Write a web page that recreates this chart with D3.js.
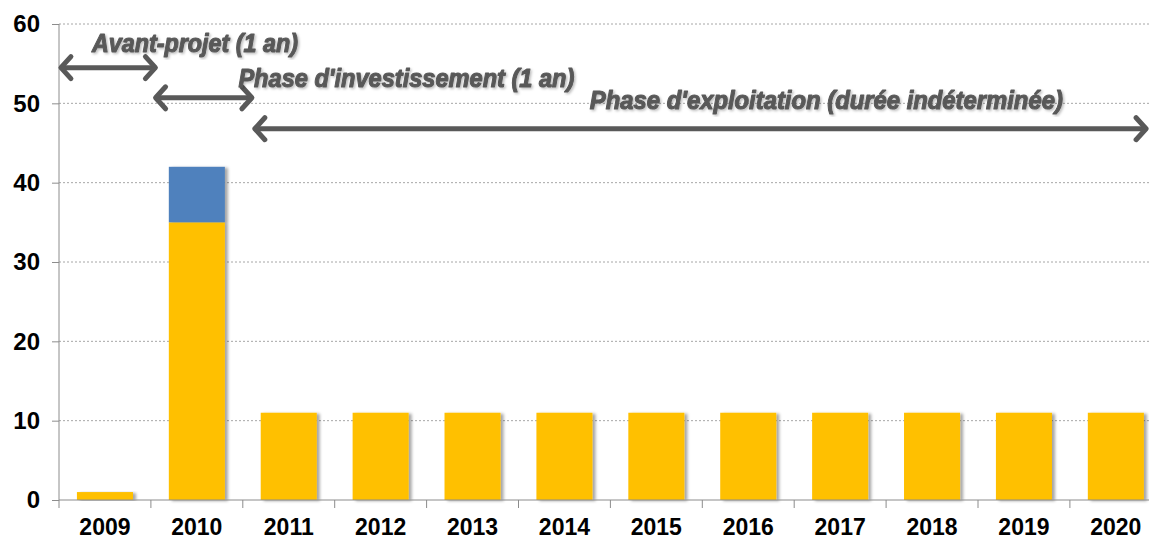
<!DOCTYPE html>
<html>
<head>
<meta charset="utf-8">
<script src="https://cdn.jsdelivr.net/npm/d3@7"></script>
<style>
  html, body { margin: 0; padding: 0; background: #fff; }
  svg { display: block; font-family: "Liberation Sans", Arial, sans-serif; }
</style>
</head>
<body>
<svg id="chart"></svg>
<script>
// Data
const years = ["2009", "2010", "2011", "2012", "2013", "2014", "2015", "2016", "2017", "2018", "2019", "2020"];
const yellowValues = [1, 35, 11, 11, 11, 11, 11, 11, 11, 11, 11, 11];
const blueValues = [0, 7, 0, 0, 0, 0, 0, 0, 0, 0, 0, 0];
const yTicks = [0, 10, 20, 30, 40, 50, 60];

// Phase arrows: positions in category units (0 = left edge of 2009)
const phaseNames = ["Avant-projet (1 an)", "Phase d'investissement (1 an)", "Phase d'exploitation (durée indéterminée)"];
const phaseFrom = [0.01, 1.04, 2.12];
const phaseTo = [1.06, 2.11, 11.84];
const phaseArrowY = [54.5, 50.7, 46.8];
const phaseLabelX = [1.48, 3.78, 8.35];
const phaseLabelY = [56.5, 52.0, 49.3];
const phaseLabelW = [206, 336, 473];

const width = 1149;
const height = 540;
const step = 91.9;
const left = 59;

const svg = d3.select('#chart')
  .attr('width', width)
  .attr('height', height);

const defs = svg.append('defs');
const shadow = defs.append('filter').attr('id', 'barShadow')
  .attr('x', '-10%').attr('y', '-10%').attr('width', '130%').attr('height', '120%');
shadow.append('feDropShadow')
  .attr('dx', 3).attr('dy', 1).attr('stdDeviation', 1.5)
  .attr('flood-color', '#000').attr('flood-opacity', 0.35);

const textShadow = defs.append('filter').attr('id', 'textShadow');
textShadow.append('feDropShadow')
  .attr('dx', 1.5).attr('dy', 1.5).attr('stdDeviation', 1)
  .attr('flood-color', '#000').attr('flood-opacity', 0.25);

const x = d3.scaleBand()
  .domain(years)
  .range([left, left + step * years.length])
  .paddingInner(0.39)
  .paddingOuter(0.195);

// linear helper in category units for annotations
const xc = d3.scaleLinear().domain([0, years.length]).range([left, left + step * years.length]);

const y = d3.scaleLinear().domain([0, 60]).range([500, 24]);

// gridlines
svg.append('g')
  .selectAll('line')
  .data(yTicks.filter(t => t > 0))
  .enter().append('line')
  .attr('x1', left).attr('x2', width)
  .attr('y1', d => y(d)).attr('y2', d => y(d))
  .attr('stroke', '#a6a6a6')
  .attr('stroke-width', 1)
  .attr('stroke-dasharray', '2,2');

// bars
const barG = svg.append('g');
years.forEach((yr, i) => {
  const g = barG.append('g').attr('filter', 'url(#barShadow)');
  g.append('rect')
    .attr('x', x(yr))
    .attr('width', x.bandwidth())
    .attr('y', y(yellowValues[i]))
    .attr('height', y(0) - y(yellowValues[i]))
    .attr('fill', '#ffc000');
  if (blueValues[i] > 0) {
    g.append('rect')
      .attr('x', x(yr))
      .attr('width', x.bandwidth())
      .attr('y', y(yellowValues[i] + blueValues[i]))
      .attr('height', y(yellowValues[i]) - y(yellowValues[i] + blueValues[i]))
      .attr('fill', '#4f81bd');
  }
});

// y axis
const yAxis = svg.append('g')
  .attr('transform', `translate(${left},0)`)
  .call(d3.axisLeft(y).tickValues(yTicks).tickSize(7).tickPadding(12));
yAxis.select('.domain').attr('stroke', '#8c8c8c').attr('d', `M0,${y(0)}V${y(60)}`);
yAxis.selectAll('.tick line').attr('stroke', '#8c8c8c');
yAxis.selectAll('.tick text')
  .attr('font-family', '"Liberation Sans", Arial, sans-serif')
  .attr('font-size', 24)
  .attr('font-weight', 'bold')
  .attr('fill', '#000');

// x axis
const xAxis = svg.append('g')
  .attr('transform', `translate(0,${y(0)})`);
xAxis.append('line')
  .attr('x1', left).attr('x2', width)
  .attr('stroke', '#8c8c8c');
xAxis.selectAll('line.tk')
  .data(d3.range(years.length + 1))
  .enter().append('line')
  .attr('class', 'tk')
  .attr('x1', d => xc(d)).attr('x2', d => xc(d))
  .attr('y1', 0).attr('y2', 8)
  .attr('stroke', '#8c8c8c');
xAxis.selectAll('text')
  .data(years)
  .enter().append('text')
  .attr('x', d => x(d) + x.bandwidth() / 2)
  .attr('y', 35)
  .attr('text-anchor', 'middle')
  .attr('font-size', 23)
  .attr('font-weight', 'bold')
  .attr('fill', '#000')
  .text(d => d);

// phase arrows
const arrowColor = '#595959';
const ann = svg.append('g');
phaseNames.forEach((name, i) => {
  const x1 = xc(phaseFrom[i]);
  const x2 = xc(phaseTo[i]);
  const ya = y(phaseArrowY[i]);
  const h = 11;
  const g = ann.append('g')
    .attr('fill', 'none')
    .attr('stroke', arrowColor)
    .attr('stroke-width', 5)
    .attr('stroke-linecap', 'round')
    .attr('stroke-linejoin', 'round');
  g.append('line').attr('x1', x1 + 2).attr('x2', x2 - 2).attr('y1', ya).attr('y2', ya);
  g.append('path').attr('d', `M${x1 + h},${ya - h}L${x1 + 1},${ya}L${x1 + h},${ya + h}`);
  g.append('path').attr('d', `M${x2 - h},${ya - h}L${x2 - 1},${ya}L${x2 - h},${ya + h}`);

  ann.append('text')
    .attr('x', xc(phaseLabelX[i]))
    .attr('y', y(phaseLabelY[i]))
    .attr('text-anchor', 'middle')
    .attr('font-size', 25)
    .attr('font-weight', 'bold')
    .attr('font-style', 'italic')
    .attr('fill', arrowColor)
    .attr('stroke', arrowColor)
    .attr('stroke-width', 1.1)
    .attr('stroke-linejoin', 'round')
    .attr('filter', 'url(#textShadow)')
    .attr('textLength', phaseLabelW[i])
    .attr('lengthAdjust', 'spacingAndGlyphs')
    .text(name);
});
</script>
</body>
</html>
